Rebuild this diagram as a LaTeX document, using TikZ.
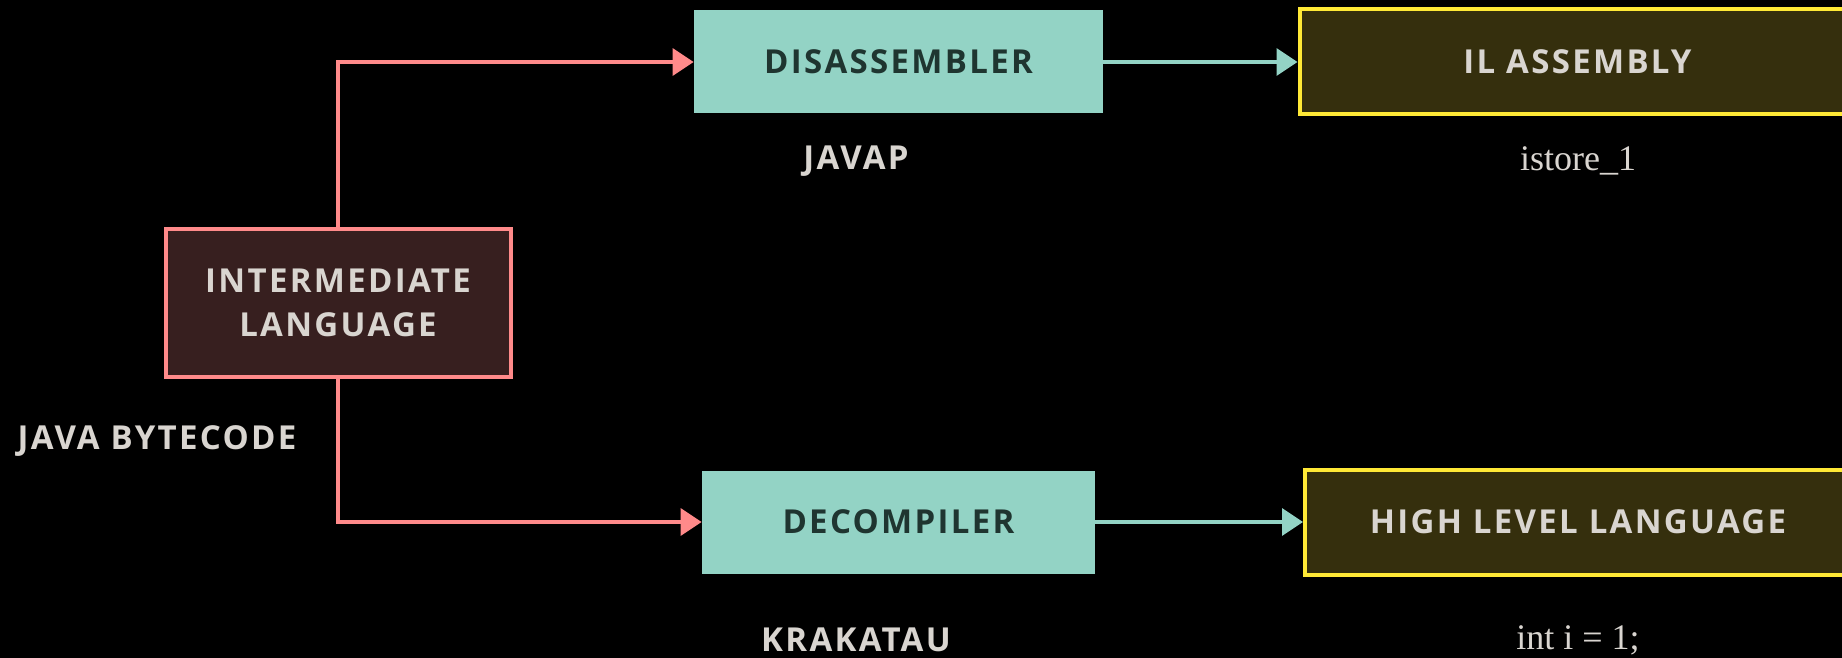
\documentclass[tikz,border=0pt]{standalone}
\usepackage{fontspec}
\setmainfont{Open Sans}
\newfontfamily\lblfont[LetterSpace=7]{Open Sans}
\newfontfamily\codefont{Liberation Serif}
\usetikzlibrary{arrows.meta}
\definecolor{bgc}{HTML}{000000}
\definecolor{pinkc}{HTML}{FF8A8A}
\definecolor{ilfill}{HTML}{371F1F}
\definecolor{tealc}{HTML}{93D3C5}
\definecolor{tealtext}{HTML}{1F3530}
\definecolor{yelc}{HTML}{FFE936}
\definecolor{yelfill}{HTML}{352F0D}
\definecolor{lighttext}{HTML}{D9D5D0}
\tikzset{
  lbl/.style={font=\lblfont\bfseries\fontsize{16.5}{20}\selectfont, text=lighttext, align=center, inner sep=0pt},
  ilbox/.style={lbl, draw=pinkc, fill=ilfill, line width=2pt, minimum width=172.5pt, minimum height=74pt},
  toolbox/.style={lbl, fill=tealc, text=tealtext, minimum height=51.5pt},
  outbox/.style={lbl, draw=yelc, fill=yelfill, line width=2pt, minimum height=52.5pt},
  code/.style={font=\codefont\fontsize{18}{21}\selectfont, text=lighttext, inner sep=0pt},
  pinkarrow/.style={draw=pinkc, line width=1.7pt, -{Triangle[length=10.5pt,width=13.5pt]}},
  tealarrow/.style={draw=tealc, line width=1.7pt, -{Triangle[length=10.5pt,width=13.5pt]}}
}
\begin{document}
\begin{tikzpicture}[x=0.5pt,y=-0.5pt]
\fill[bgc] (0,0) rectangle (1842,658);
\useasboundingbox (0,0) rectangle (1842,658);
\begin{scope}
\clip (0,0) rectangle (1842,658);
\node[ilbox] (il) at (338,303) {INTERMEDIATE\\[2pt]LANGUAGE};
\node[toolbox, minimum width=204.5pt] (dis) at (898.5,62) {DISASSEMBLER};
\node[outbox, minimum width=278pt] (ila) at (1577.5,62) {IL ASSEMBLY};
\node[toolbox, minimum width=196.5pt] (dec) at (898.5,522) {DECOMPILER};
\node[outbox, minimum width=273pt] (hll) at (1578,522) {HIGH LEVEL LANGUAGE};
\node[lbl] (javap) at (856,161) {JAVAP};
\node[code] (istore) at (1578,161) {istore\_1};
\node[lbl] (jbc) at (157,441) {JAVA BYTECODE};
\node[lbl] (krak) at (856,640) {KRAKATAU};
\node[code] (inti) at (1578,640) {int i = 1;};
\draw[pinkarrow] (il.north) |- (dis.west);
\draw[pinkarrow] (il.south) |- (dec.west);
\draw[tealarrow] (dis.east) -- (ila.west);
\draw[tealarrow] (dec.east) -- (hll.west);
\end{scope}
\end{tikzpicture}
\end{document}
